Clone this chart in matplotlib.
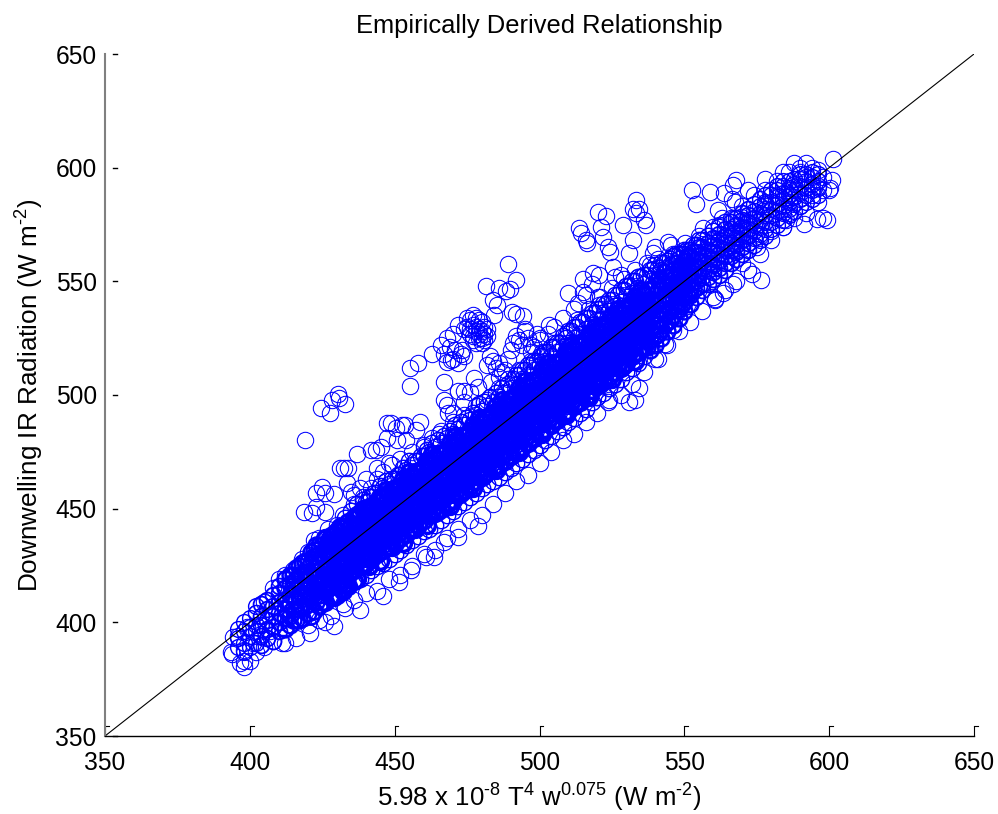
import matplotlib
matplotlib.use("Agg")
import matplotlib.pyplot as plt

plt.rcParams['font.family'] = ['Liberation Sans', 'DejaVu Sans']
plt.rcParams['mathtext.fontset'] = 'custom'
plt.rcParams['mathtext.rm'] = 'Liberation Sans'
plt.rcParams['mathtext.default'] = 'rm'

ticks = [350, 400, 450, 500, 550, 600, 650]
line_x = [350, 650]
line_y = [350, 650]

# dense middle of the cloud, one list of y values per x column
band_x = list(range(396, 598, 2))
band_y = [
    [389, 393, 397], [387, 391, 396, 400], [389, 394, 398, 402], [391, 396, 399, 404, 407],
    [390, 394, 399, 403, 408], [393, 397, 401, 406, 410], [392, 398, 403, 407, 412],
    [396, 400, 404, 409, 413, 416], [397, 402, 406, 410, 415, 419], [399, 403, 408, 412, 417, 421],
    [401, 406, 410, 415, 419, 424], [402, 407, 412, 416, 421, 426], [404, 408, 413, 418, 422, 427],
    [405, 411, 415, 420, 424, 429, 432], [407, 412, 417, 421, 426, 430, 434], [409, 414, 419, 423, 428, 432, 437],
    [411, 416, 420, 425, 429, 434, 438], [412, 418, 422, 427, 431, 435, 440], [414, 419, 424, 428, 433, 437, 442],
    [416, 421, 426, 430, 435, 439, 444], [418, 423, 427, 432, 436, 441, 446], [419, 425, 429, 434, 438, 443, 448],
    [421, 426, 431, 435, 440, 445, 450, 453], [423, 428, 433, 437, 442, 447, 451, 455], [425, 430, 434, 439, 444, 448, 453, 457],
    [426, 432, 436, 441, 446, 450, 455, 459], [428, 433, 438, 443, 447, 452, 457, 461], [430, 435, 440, 445, 449, 454, 459, 463],
    [432, 437, 442, 446, 451, 456, 460, 465], [434, 439, 444, 448, 453, 458, 462, 467], [436, 441, 445, 450, 455, 460, 464, 469],
    [438, 443, 447, 452, 457, 461, 466, 471], [440, 445, 449, 454, 459, 463, 468, 473], [441, 447, 451, 456, 461, 465, 470, 475],
    [443, 448, 453, 458, 462, 467, 472, 477], [445, 450, 455, 460, 464, 469, 474, 479], [447, 452, 457, 462, 466, 471, 476, 481],
    [449, 454, 459, 463, 468, 473, 478, 483], [451, 456, 461, 465, 470, 475, 480, 485], [453, 458, 463, 467, 472, 477, 482, 487],
    [455, 460, 464, 469, 474, 479, 484, 489], [457, 462, 466, 471, 476, 481, 486, 491], [459, 464, 468, 473, 478, 483, 488, 493],
    [461, 466, 470, 475, 480, 485, 490, 495], [462, 468, 472, 477, 482, 487, 492, 497], [464, 469, 474, 479, 484, 489, 494, 499],
    [466, 471, 476, 481, 486, 491, 496, 501], [468, 473, 478, 483, 488, 493, 498, 503], [470, 475, 480, 485, 490, 495, 500, 505, 509],
    [472, 477, 482, 487, 492, 497, 502, 507, 511], [474, 479, 484, 489, 494, 499, 504, 509, 513], [476, 481, 486, 491, 496, 501, 506, 511, 515],
    [478, 483, 488, 493, 498, 503, 508, 513, 517], [480, 485, 490, 495, 500, 505, 510, 515, 519], [482, 487, 492, 497, 502, 507, 512, 517, 521],
    [484, 489, 494, 499, 504, 509, 514, 519, 523], [486, 491, 496, 501, 506, 511, 516, 521, 526], [488, 493, 498, 503, 508, 513, 518, 523, 528],
    [490, 495, 500, 505, 510, 515, 520, 525, 530], [492, 497, 502, 507, 512, 517, 522, 527, 532], [494, 499, 504, 509, 514, 519, 524, 529, 534],
    [497, 502, 506, 511, 516, 521, 526, 531, 536], [499, 504, 508, 513, 518, 523, 528, 533, 538], [501, 506, 510, 515, 520, 525, 530, 535, 540],
    [503, 508, 513, 517, 522, 527, 532, 537, 542], [505, 510, 515, 520, 524, 529, 534, 539, 544], [507, 512, 517, 522, 526, 531, 536, 541, 546],
    [510, 514, 519, 524, 529, 533, 538, 543, 548], [512, 517, 521, 526, 531, 535, 540, 545, 550], [514, 519, 524, 528, 533, 538, 542, 547, 552],
    [517, 521, 526, 530, 535, 540, 544, 549, 553], [520, 524, 528, 533, 537, 542, 546, 551, 555], [522, 526, 531, 535, 540, 544, 548, 553, 557],
    [525, 529, 533, 537, 542, 546, 550, 555, 558], [528, 532, 536, 540, 544, 548, 552, 556, 559], [531, 535, 539, 543, 547, 551, 555, 558, 561],
    [534, 538, 541, 545, 549, 553, 556, 560, 562], [537, 541, 544, 548, 552, 555, 559, 562, 564], [540, 544, 547, 551, 554, 557, 561, 564],
    [543, 547, 550, 553, 556, 560, 563, 566], [546, 549, 552, 556, 559, 562, 565, 568], [549, 552, 555, 558, 561, 564, 567, 570],
    [551, 554, 557, 560, 563, 566, 569, 572], [553, 556, 559, 562, 565, 568, 571, 574], [555, 558, 561, 564, 567, 570, 573, 576],
    [558, 561, 564, 567, 570, 573, 576], [560, 563, 566, 569, 572, 575, 578], [562, 565, 568, 571, 574, 577, 580],
    [564, 567, 570, 573, 576, 579, 582], [566, 569, 572, 575, 578, 581, 584], [568, 571, 574, 577, 580, 583, 586],
    [570, 573, 576, 579, 582, 585, 588], [573, 576, 579, 582, 585, 588, 590], [575, 578, 581, 584, 587, 590, 592],
    [577, 580, 583, 586, 589, 592, 594], [579, 582, 585, 588, 591, 594], [581, 584, 587, 590, 593, 595],
    [583, 586, 589, 592, 595, 597], [585, 588, 591, 594, 597], [586, 590, 593, 596, 598],
    [588, 591, 594, 597],
]

# more of the middle, on the odd x columns between the ones above
fill_x = list(range(415, 557, 2))
fill_y = [
    [401, 406, 412, 416, 421], [401, 406, 411, 416, 421, 425], [407, 412, 415, 422, 427], [403, 411, 416, 421, 426, 431],
    [409, 414, 420, 424, 429, 434], [409, 414, 419, 424, 429, 434], [415, 420, 423, 430, 435], [411, 419, 424, 429, 434, 439],
    [417, 422, 428, 432, 437, 442], [417, 422, 427, 432, 437, 442, 446], [423, 428, 431, 438, 443, 449], [419, 427, 432, 437, 442, 447, 452],
    [425, 430, 436, 440, 445, 450, 454], [425, 430, 435, 440, 445, 450, 455], [431, 436, 439, 446, 451, 457], [427, 435, 440, 445, 450, 455, 460],
    [433, 438, 444, 448, 453, 458, 462], [433, 438, 443, 448, 453, 458, 463], [439, 444, 447, 454, 459, 465], [435, 443, 448, 453, 458, 463, 468],
    [441, 446, 452, 456, 461, 466, 471], [441, 446, 451, 456, 461, 466, 471], [447, 452, 455, 462, 467, 473], [443, 451, 456, 461, 466, 471, 476],
    [449, 454, 460, 464, 469, 474, 479], [449, 454, 459, 464, 469, 474, 480], [455, 460, 463, 470, 475, 482], [451, 459, 464, 469, 474, 479, 484],
    [457, 462, 468, 472, 477, 482, 487], [457, 462, 467, 472, 477, 482, 488], [463, 468, 471, 478, 483, 490], [459, 467, 472, 477, 482, 487, 492],
    [465, 470, 476, 480, 485, 490, 496], [465, 470, 475, 480, 485, 490, 497], [471, 476, 479, 486, 491, 499], [467, 475, 480, 485, 490, 495, 501],
    [473, 478, 484, 488, 493, 498, 503], [473, 478, 483, 488, 493, 498, 505], [479, 484, 487, 494, 499, 507], [475, 483, 488, 493, 498, 503, 509],
    [481, 486, 492, 496, 501, 506, 511], [481, 486, 491, 496, 501, 506, 513], [487, 492, 495, 502, 507, 515], [483, 491, 496, 501, 506, 511, 517],
    [489, 494, 500, 504, 509, 514, 519], [489, 494, 499, 504, 509, 514, 521], [495, 500, 503, 510, 515, 523], [491, 499, 504, 509, 514, 519, 525],
    [497, 502, 508, 512, 517, 522, 528], [497, 502, 507, 512, 517, 522, 530], [503, 508, 511, 518, 523, 532], [499, 507, 512, 517, 522, 527, 534],
    [505, 510, 516, 520, 525, 530, 536], [505, 510, 515, 520, 525, 530, 538], [511, 516, 519, 526, 531, 540], [507, 515, 520, 525, 530, 535, 542],
    [513, 518, 524, 528, 533, 538, 544], [513, 518, 523, 528, 533, 538, 546], [519, 524, 527, 534, 539, 548], [515, 523, 528, 533, 538, 543, 550],
    [521, 526, 532, 536, 541, 546, 552], [521, 526, 531, 536, 541, 546, 553], [527, 532, 535, 542, 547, 555], [527, 531, 536, 541, 546, 551, 556],
    [531, 536, 540, 544, 549, 554, 558], [533, 538, 543, 548, 552, 557, 560], [539, 544, 547, 553, 558, 562], [539, 543, 548, 553, 557, 562],
    [544, 549, 552, 556, 561, 564], [546, 550, 555, 559, 563, 566], [548, 553, 556, 561, 565, 568],
]

# rings along the upper and lower edge of the cloud
rim_x = [396, 399, 402, 405, 408, 410, 412, 415, 418, 420, 422, 424, 427, 430, 432, 436, 439, 442, 444, 446,
         449, 452, 456, 460, 463, 466, 470, 474, 478, 482, 486, 489, 493, 497, 501, 505, 509, 513, 517, 521,
         525, 529, 533, 537, 541, 546, 550, 554, 558, 562, 566, 570, 574, 578, 582, 586, 590, 594, 598,
         394, 398, 402, 405, 408, 412, 416, 420, 424, 428, 432, 436, 440, 444, 448, 452, 456, 460, 464, 468,
         472, 476, 480, 484, 488, 492, 496, 500, 504, 508, 512, 516, 520, 524, 528, 532, 536, 540, 544, 548,
         552, 556, 560, 564, 568, 572, 576, 580, 584, 588, 592, 596, 600]
rim_y = [394, 398, 404, 409, 415, 419, 421, 423, 428, 431, 436, 437, 441, 443, 447, 452, 455, 459, 463, 466,
         469, 472, 475, 478, 481, 484, 488, 491, 495, 498, 503, 507, 511, 515, 519, 523, 527, 533, 538, 543,
         547, 551, 555, 558, 560, 562, 563, 566, 570, 575, 578, 583, 588, 590, 594, 598, 600, 600, 596,
         386, 383, 387, 389, 392, 391, 393, 399, 401, 403, 408, 410, 413, 414, 419, 421, 425, 430, 432, 437,
         441, 445, 447, 452, 457, 462, 465, 470, 475, 480, 483, 488, 492, 498, 500, 505, 510, 516, 522, 528,
         532, 537, 543, 546, 550, 555, 562, 568, 574, 578, 580, 585, 590]

# single rings outside the main cloud
out_x = [489, 481.5, 491.9, 486, 489.8, 488.4, 484, 485.5, 484.3, 490.4, 491.9, 494.2, 468.2, 469.3, 462.8, 458,
         455.2, 455.2, 467, 471.7, 473.9, 476, 478.6, 477.3, 483.2, 466.9, 468.2, 468.4, 419.2, 424.4, 427.6,
         428.2, 430.4, 430.7, 433, 437, 431.3, 432.5, 434, 443.4, 441.7, 445.2, 447.2, 448.6, 450.3, 452.7,
         453.5, 458.8, 457.5, 447.5, 450.9, 453.8, 460, 465.3, 473.4, 499.3, 503.3,
         601.2, 552.8, 558.8, 554.2, 561.6, 563.8, 568, 566.8, 566.6, 567.4, 591.3, 595.7, 597.8, 599.1, 600.9,
         600.2, 533.4, 532.3, 534.5, 533.4, 536.2, 536.9, 520.1, 523, 513.8, 514.2, 516.1, 516.4, 521.3, 521.9,
         523.6, 524.2, 528.8, 532.2, 531, 518.4, 520.7, 525.3, 528.2, 514.9, 513.2, 520.1, 520.7, 539.2, 544.3,
         545.5, 550.1, 556.5, 559.9, 567.3, 569.7, 584.1, 576.4, 573.2, 563.5, 560.5, 588, 592, 596,
         478.6, 471.7, 467, 463.6, 460.7, 451.5, 455.5, 446.1, 437.9, 433, 429, 426.1, 420.7, 411.1, 397.9,
         396.7, 393.5, 394.3, 418.6, 421.5, 422.7, 426.1, 422.7, 425, 426.1, 429, 433.6, 435,
         532.8, 531, 534.5, 523.6, 520, 540.9, 543.2, 546, 560.5, 566.8]
out_y = [557.6, 548, 550.5, 547, 546.6, 545.7, 541.7, 539.5, 535, 536.5, 535.6, 534.7, 514.6, 515.4, 518, 514,
         511.7, 503.9, 505.5, 501.7, 501.7, 501.3, 503.6, 507.4, 505.8, 497.8, 495.6, 492.2, 480.2, 494.4, 492.2,
         497.8, 500.4, 498.5, 495.9, 474, 467.7, 467.7, 467.7, 475.8, 475.8, 477.2, 487.8, 487.8, 485.4, 486.8,
         486.8, 488.2, 484.6, 481, 480.2, 480.2, 477, 483, 519.7, 527, 530.7,
         604, 590, 589.2, 584, 581.3, 589, 594.5, 592.3, 586, 585, 575.2, 577.2, 577.8, 576.9, 594.5,
         591, 585.7, 582, 582, 580, 576.9, 574.7, 580.6, 578.7, 573.3, 571.3, 568.1, 566.9, 574, 569.6,
         565.2, 563, 574.7, 568.1, 562.3, 553.5, 552.7, 556.4, 552.7, 545.4, 540.3, 543.2, 539.5, 562.3, 567.4,
         565.9, 566.8, 573.3, 574, 577.8, 578.2, 574, 550.5, 553.4, 544.7, 541.7, 602, 602, 599,
         442.3, 437.6, 435.4, 428.8, 428.8, 417.9, 423, 411.6, 405.4, 406.2, 398.4, 400.3, 395.4, 391, 380.5,
         382, 387, 393.7, 448.6, 447.9, 450.8, 448.6, 456.7, 459.6, 456.7, 456.4, 461.1, 457.4,
         497.8, 497, 502.9, 497, 499.2, 516, 522.6, 528.5, 542.4, 549]

# the tight knot near 478/528 and smaller knots beside it
knot_x = [475, 476, 477, 478, 479, 480, 481, 482, 475, 476, 477, 478, 479, 480, 481, 482, 476, 477, 478, 479,
          480, 481, 477, 478, 479, 480, 474, 472, 470, 468, 469, 471, 473, 466, 467, 470, 472, 474,
          483, 484, 482, 485, 486, 488, 490, 491, 492, 493, 494, 495, 496, 497, 489, 486, 487, 498, 500]
knot_y = [534, 533, 535, 534, 533, 532, 530, 529, 530, 529, 531, 530, 529, 528, 527, 526, 527, 526, 528, 527,
          525, 524, 524, 523, 525, 523, 529, 531, 527, 525, 521, 520, 518, 522, 518, 516, 514, 517,
          517, 515, 513, 512, 514, 511, 520, 523, 526, 524, 522, 528, 525, 519, 516, 508, 510, 521, 524]

# extra thin rings at both ends of the cloud and on its upper side
extra_x = [505, 508, 512, 516, 518, 526, 530, 534, 538, 500, 497, 495, 503, 510, 515, 540, 555, 563, 572, 578,
           584, 590, 598, 596, 586, 590, 594, 570, 575, 580, 585, 398, 401, 404, 407, 410, 413, 416, 400,
           562, 566, 570, 574, 578, 582, 586, 560, 568, 576, 584, 592, 440, 444, 448, 438, 436, 470, 474]
extra_y = [530, 534, 538, 544, 549, 552, 548, 552, 557, 525, 522, 529, 527, 545, 551, 565, 570, 578, 590, 595,
           598, 598, 590, 592, 580, 583, 588, 558, 565, 572, 577, 388, 391, 395, 396, 400, 404, 410, 383,
           560, 566, 572, 578, 584, 588, 590, 556, 564, 570, 582, 596, 463, 468, 470, 459, 456, 492, 497]


def ring_width(x):
    """Ring line width of the packed part of a column, lighter towards the ends of the cloud
    :param x: x value of the column
    """
    if 426 <= x <= 536:
        return 2.5
    if 412 <= x <= 552:
        return 1.8
    if 404 <= x <= 572:
        return 1.3
    return 1.0


def draw_columns(ax, xs, columns):
    """Draw the rings column by column, packed middle heavier than the outside
    :param ax: axes to draw on
    :param xs: x value of each column
    :param columns: list of y values for each column
    """
    for x, ys in zip(xs, columns):
        inner = [y for y in ys if -19 < y - x < 12]
        outer = [y for y in ys if y not in inner]
        ax.plot([x] * len(inner), inner, 'o', mfc='none', mec='#0000ff', ms=11.4, mew=ring_width(x))
        ax.plot([x] * len(outer), outer, 'o', mfc='none', mec='#0000ff', ms=11.8, mew=1.0)


fig = plt.figure(figsize=(9.98, 8.14), dpi=100)
ax = fig.add_axes([105 / 998, 78 / 814, 869 / 998, 682 / 814])

draw_columns(ax, band_x, band_y)
draw_columns(ax, fill_x, fill_y)
for xs, ys in [(rim_x, rim_y), (out_x, out_y), (knot_x, knot_y), (extra_x, extra_y)]:
    ax.plot(xs, ys, 'o', mfc='none', mec='#0000ff', ms=11.8, mew=0.75)
ax.plot(line_x, line_y, color='black', lw=0.8)

ax.set_xlim(350, 650)
ax.set_ylim(350, 650)
ax.set_xticks(ticks)
ax.set_yticks(ticks)
ax.tick_params(axis='x', direction='in', length=7, width=0.8, labelsize=17.7, pad=11)
ax.tick_params(axis='y', length=0, labelsize=17.7, pad=6)

# y ticks only show as a short dash away from the axis, x ticks end in a small hook
for t in ticks:
    ax.plot([0.0095, 0.014], [t, t], color='black', lw=1.0, transform=ax.get_yaxis_transform(), clip_on=False)
    ax.plot([t, t + 1.3], [0.0142, 0.0142], color='black', lw=0.8, transform=ax.get_xaxis_transform(), clip_on=False)

ax.spines['top'].set_visible(False)
ax.spines['right'].set_visible(False)
ax.spines['left'].set_color('#808080')
ax.spines['left'].set_linewidth(1.5)
ax.spines['bottom'].set_linewidth(1.0)

ax.set_title('Empirically Derived Relationship', fontsize=18.4, pad=15)
ax.set_xlabel('5.98 x 10$^{\u20108}$ T$^{4}$ w$^{0.075}$ (W m$^{\u20102}$)', fontsize=18.6, labelpad=5)
ax.set_ylabel('Downwelling IR Radiation (W m$^{\u20102}$)', fontsize=18.8, labelpad=7)

fig.savefig('out.png', dpi=100)
